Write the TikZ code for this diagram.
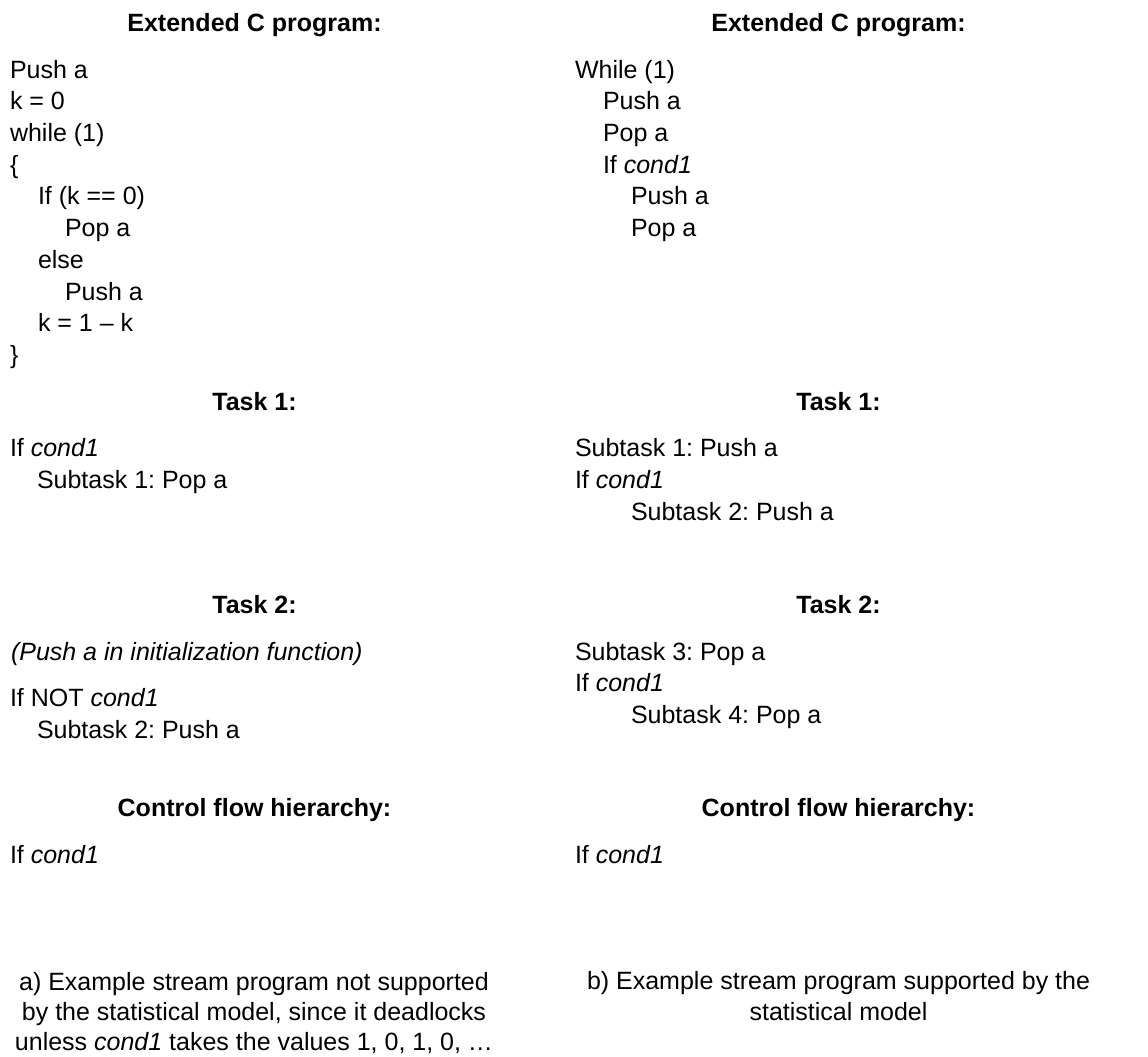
\documentclass[tikz,border=0pt]{standalone}
\usepackage{fontspec}
\setmainfont{Liberation Sans}
\frenchspacing
\begin{document}
\begin{tikzpicture}[x=1pt,y=-1pt,
  txt/.style={anchor=base west,inner sep=0pt,outer sep=0pt,font=\fontsize{25}{31}\selectfont},
  head/.style={anchor=base,inner sep=0pt,outer sep=0pt,font=\fontsize{25}{31}\selectfont\bfseries},
  capt/.style={anchor=base,inner sep=0pt,outer sep=0pt,font=\fontsize{25}{31}\selectfont}]
\useasboundingbox (0,0) rectangle (1148,1057);

% ---------------- left column: program a ----------------
\node[head] (ha1) at (254.5,32) {Extended C program:};
\node[txt] (a01) at (10,78)    {Push a};
\node[txt] (a02) at (10,109.7) {k = 0};
\node[txt] (a03) at (10,141.4) {while (1)};
\node[txt] (a04) at (10,173)   {\{};
\node[txt] (a05) at (38,204.8) {If (k == 0)};
\node[txt] (a06) at (65,236.5) {Pop a};
\node[txt] (a07) at (38,268.2) {else};
\node[txt] (a08) at (65,300)   {Push a};
\node[txt] (a09) at (38,331.7) {k = 1 – k};
\node[txt] (a10) at (10,363.3) {\}};

\node[head] (ha2) at (254.5,410) {Task 1:};
\node[txt] (a11) at (10,456.7) {If \textit{cond1}};
\node[txt] (a12) at (37,488.4) {Subtask 1: Pop a};

\node[head] (ha3) at (254.5,613) {Task 2:};
\node[txt] (a13) at (11,660)   {\textit{(Push a in initialization function)}};
\node[txt] (a14) at (10,706.7) {If NOT \textit{cond1}};
\node[txt] (a15) at (37,738.4) {Subtask 2: Push a};

\node[head] (ha4) at (254.5,816.7) {Control flow hierarchy:};
\node[txt] (a16) at (10,863)   {If \textit{cond1}};

\node[capt] (ca1) at (254,990)    {a) Example stream program not supported};
\node[capt] (ca2) at (254,1020.3) {by the statistical model, since it deadlocks};
\node[capt] (ca3) at (254,1050.6) {unless \textit{cond1} takes the values 1, 0, 1, 0, …};

% ---------------- right column: program b ----------------
\node[head] (hb1) at (838.5,32) {Extended C program:};
\node[txt] (b01) at (575,78)    {While (1)};
\node[txt] (b02) at (603,109.7) {Push a};
\node[txt] (b03) at (603,141.4) {Pop a};
\node[txt] (b04) at (603,173)   {If \textit{cond1}};
\node[txt] (b05) at (631,204.8) {Push a};
\node[txt] (b06) at (631,236.5) {Pop a};

\node[head] (hb2) at (838.5,410) {Task 1:};
\node[txt] (b07) at (575,456.7) {Subtask 1: Push a};
\node[txt] (b08) at (575,488.4) {If \textit{cond1}};
\node[txt] (b09) at (631,520)   {Subtask 2: Push a};

\node[head] (hb3) at (838.5,613) {Task 2:};
\node[txt] (b10) at (575,660)   {Subtask 3: Pop a};
\node[txt] (b11) at (575,691.7) {If \textit{cond1}};
\node[txt] (b12) at (631,723.3) {Subtask 4: Pop a};

\node[head] (hb4) at (838.5,816.7) {Control flow hierarchy:};
\node[txt] (b13) at (575,863)   {If \textit{cond1}};

\node[capt] (cb1) at (838.5,989.5)  {b) Example stream program supported by the};
\node[capt] (cb2) at (838.5,1020.3) {statistical model};
\end{tikzpicture}
\end{document}
